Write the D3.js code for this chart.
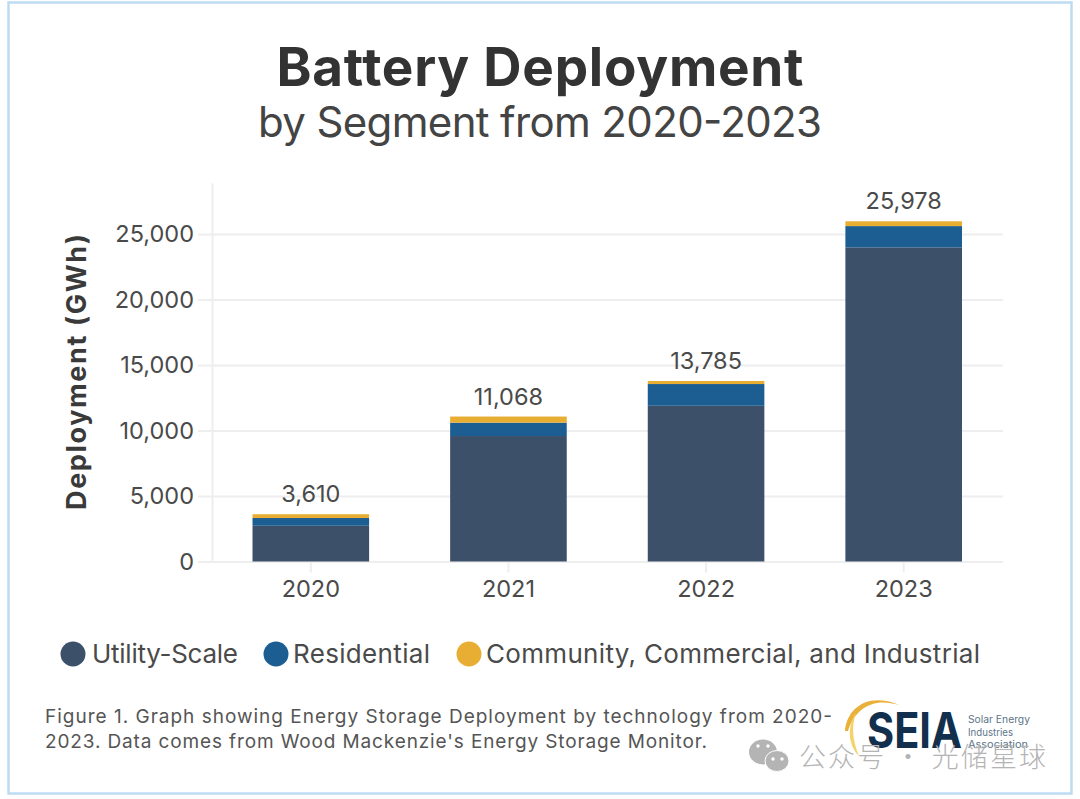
<!DOCTYPE html>
<html>
<head>
<meta charset="utf-8">
<script src="https://cdn.jsdelivr.net/npm/d3@7"></script>
<style>
  html, body { margin: 0; padding: 0; background: #fff; }
  svg { display: block; }
  text { font-family: Inter, "Noto Sans", sans-serif; fill: #4a4a4a; }
</style>
</head>
<body>
<div id="chart"></div>
<script>
// 1: DATA
const years = ["2020", "2021", "2022", "2023"];
const utilityScale = [2730, 9580, 11890, 23985];
const residential = [590, 1020, 1660, 1625];
const community = [290, 468, 235, 368];
const totals = [3610, 11068, 13785, 25978];
const yTicks = [0, 5000, 10000, 15000, 20000, 25000];
const segmentNames = ["Utility-Scale", "Residential", "Community, Commercial, and Industrial"];
const segmentColors = ["#3c5069", "#1c5d92", "#e8ae33"];
const captionLines = [
    "Figure 1. Graph showing Energy Storage Deployment by technology from 2020-",
    "2023. Data comes from Wood Mackenzie's Energy Storage Monitor."
];

// 2: SVG + FRAME
const svg = d3.select("#chart").append("svg")
    .attr("width", 1080)
    .attr("height", 799);

svg.append("rect")
    .attr("x", 8.5).attr("y", 2.5)
    .attr("width", 1063).attr("height", 791)
    .attr("fill", "#fff")
    .attr("stroke", "#bcdcf2")
    .attr("stroke-width", 2.5);

// title
svg.append("text")
    .attr("x", 540).attr("y", 86)
    .attr("text-anchor", "middle")
    .attr("textLength", 527)
    .style("font-size", "53px")
    .style("font-weight", 700)
    .style("fill", "#333")
    .text("Battery Deployment");

svg.append("text")
    .attr("x", 540).attr("y", 137)
    .attr("text-anchor", "middle")
    .attr("textLength", 564)
    .style("font-size", "42px")
    .style("font-weight", 400)
    .style("fill", "#444")
    .text("by Segment from 2020-2023");

// 3: SCALES
const x = d3.scaleBand()
    .domain(years)
    .range([212, 1002.5])
    .paddingInner(0.41)
    .paddingOuter(0.205);

const y = d3.scaleLinear()
    .domain([0, 28900])
    .range([561.5, 183]);

// 4: AXES
const yAxis = svg.append("g")
    .attr("transform", "translate(212,0)")
    .call(d3.axisLeft(y).tickValues(yTicks).tickFormat(d3.format(",")).tickSize(14).tickSizeOuter(0).tickPadding(4));
yAxis.selectAll(".tick line").clone()
    .attr("x1", 0).attr("x2", 791);
yAxis.selectAll("line").attr("stroke", "#eeeeee").attr("stroke-width", 2);
yAxis.select(".domain").attr("stroke", "#eeeeee").attr("stroke-width", 2);
yAxis.selectAll("text")
    .style("font-size", "23.5px")
    .style("font-family", "Inter, sans-serif")
    .style("fill", "#4a4a4a");

const xAxis = svg.append("g")
    .attr("transform", "translate(0,561.5)")
    .call(d3.axisBottom(x).tickSize(11).tickPadding(8));
xAxis.selectAll("line").attr("stroke", "#eeeeee").attr("stroke-width", 2);
xAxis.select(".domain").remove();
xAxis.selectAll("text")
    .style("font-size", "23.5px")
    .style("font-family", "Inter, sans-serif")
    .style("fill", "#4a4a4a");

// y axis label
svg.append("text")
    .attr("transform", "translate(86,372) rotate(-90)")
    .attr("text-anchor", "middle")
    .attr("textLength", 276)
    .style("font-size", "27px")
    .style("font-weight", 700)
    .style("fill", "#3a3a3a")
    .text("Deployment (GWh)");

// 5: STACKED BARS
const rows = years.map((year, i) => ({
    year,
    [segmentNames[0]]: utilityScale[i],
    [segmentNames[1]]: residential[i],
    [segmentNames[2]]: community[i]
}));
const stacked = d3.stack().keys(segmentNames)(rows);

svg.append("g").selectAll("g")
    .data(stacked)
    .join("g")
    .attr("fill", (d, i) => segmentColors[i])
    .selectAll("rect")
    .data(d => d)
    .join("rect")
    .attr("x", d => x(d.data.year))
    .attr("y", d => y(d[1]))
    .attr("width", x.bandwidth())
    .attr("height", d => y(d[0]) - y(d[1]));

// totals
svg.append("g").selectAll("text")
    .data(totals)
    .join("text")
    .attr("x", (d, i) => x(years[i]) + x.bandwidth() / 2)
    .attr("y", d => y(d) - 12)
    .attr("text-anchor", "middle")
    .style("font-size", "23.5px")
    .text(d3.format(","));

// 6: LEGEND
const legendDotX = [73, 276, 469];
const legend = svg.append("g").selectAll("g")
    .data(segmentNames)
    .join("g")
    .attr("transform", (d, i) => `translate(${legendDotX[i]},654)`);
legend.append("circle")
    .attr("r", 12.5)
    .attr("fill", (d, i) => segmentColors[i]);
legend.append("text")
    .attr("x", (d, i) => [19, 17, 17][i])
    .attr("y", 9)
    .attr("textLength", (d, i) => [146, 137, 494][i])
    .style("font-size", "26px")
    .text(d => d);

// 7: CAPTION
svg.append("g").selectAll("text")
    .data(captionLines)
    .join("text")
    .attr("x", 45)
    .attr("y", (d, i) => 723 + i * 25)
    .attr("textLength", (d, i) => [787, 662][i])
    .style("font-size", "19px")
    .style("fill", "#555")
    .text(d => d);

// 8: SEIA LOGO
const logo = svg.append("g");
logo.append("path")
    .attr("d", "M845,731 C847,708 868,692 899,705 C874,697 855,708 848,731 Z")
    .attr("fill", "#e9b03a");
logo.append("path")
    .attr("d", "M856,713 C846,728 849,746 859,756 C853,742 851,727 856,713 Z")
    .attr("fill", "#f3d36a");
logo.append("text")
    .attr("x", 867).attr("y", 748)
    .attr("textLength", 95)
    .attr("lengthAdjust", "spacingAndGlyphs")
    .style("font-size", "49px")
    .style("font-weight", 700)
    .style("fill", "#12304d")
    .text("SEIA");
logo.selectAll(".sub")
    .data(["Solar Energy", "Industries", "Association"])
    .join("text")
    .attr("x", 968)
    .attr("y", (d, i) => 723 + i * 12.5)
    .attr("textLength", (d, i) => [62, 45, 60][i])
    .attr("lengthAdjust", "spacingAndGlyphs")
    .style("font-size", "10px")
    .style("fill", "#5c7488")
    .text(d => d);

// 9: WATERMARK
const mark = svg.append("g").attr("fill", "#b4b4b4");
mark.append("ellipse").attr("cx", 763).attr("cy", 752).attr("rx", 14).attr("ry", 12.5);
mark.append("ellipse").attr("cx", 777).attr("cy", 761).attr("rx", 12).attr("ry", 10.5).attr("stroke", "#fff").attr("stroke-width", 1);
mark.selectAll(".eye")
    .data([[758, 746], [768, 746], [773, 759], [782, 759]])
    .join("circle")
    .attr("cx", d => d[0])
    .attr("cy", d => d[1])
    .attr("r", 1.7)
    .attr("fill", "#fff");
svg.append("text")
    .attr("x", 799).attr("y", 767)
    .attr("textLength", 247)
    .style("font-family", "'Noto Sans CJK SC', sans-serif")
    .style("font-size", "27px")
    .style("font-weight", 300)
    .style("fill", "#b4b4b4")
    .text("公众号 · 光储星球");
</script>
</body>
</html>
